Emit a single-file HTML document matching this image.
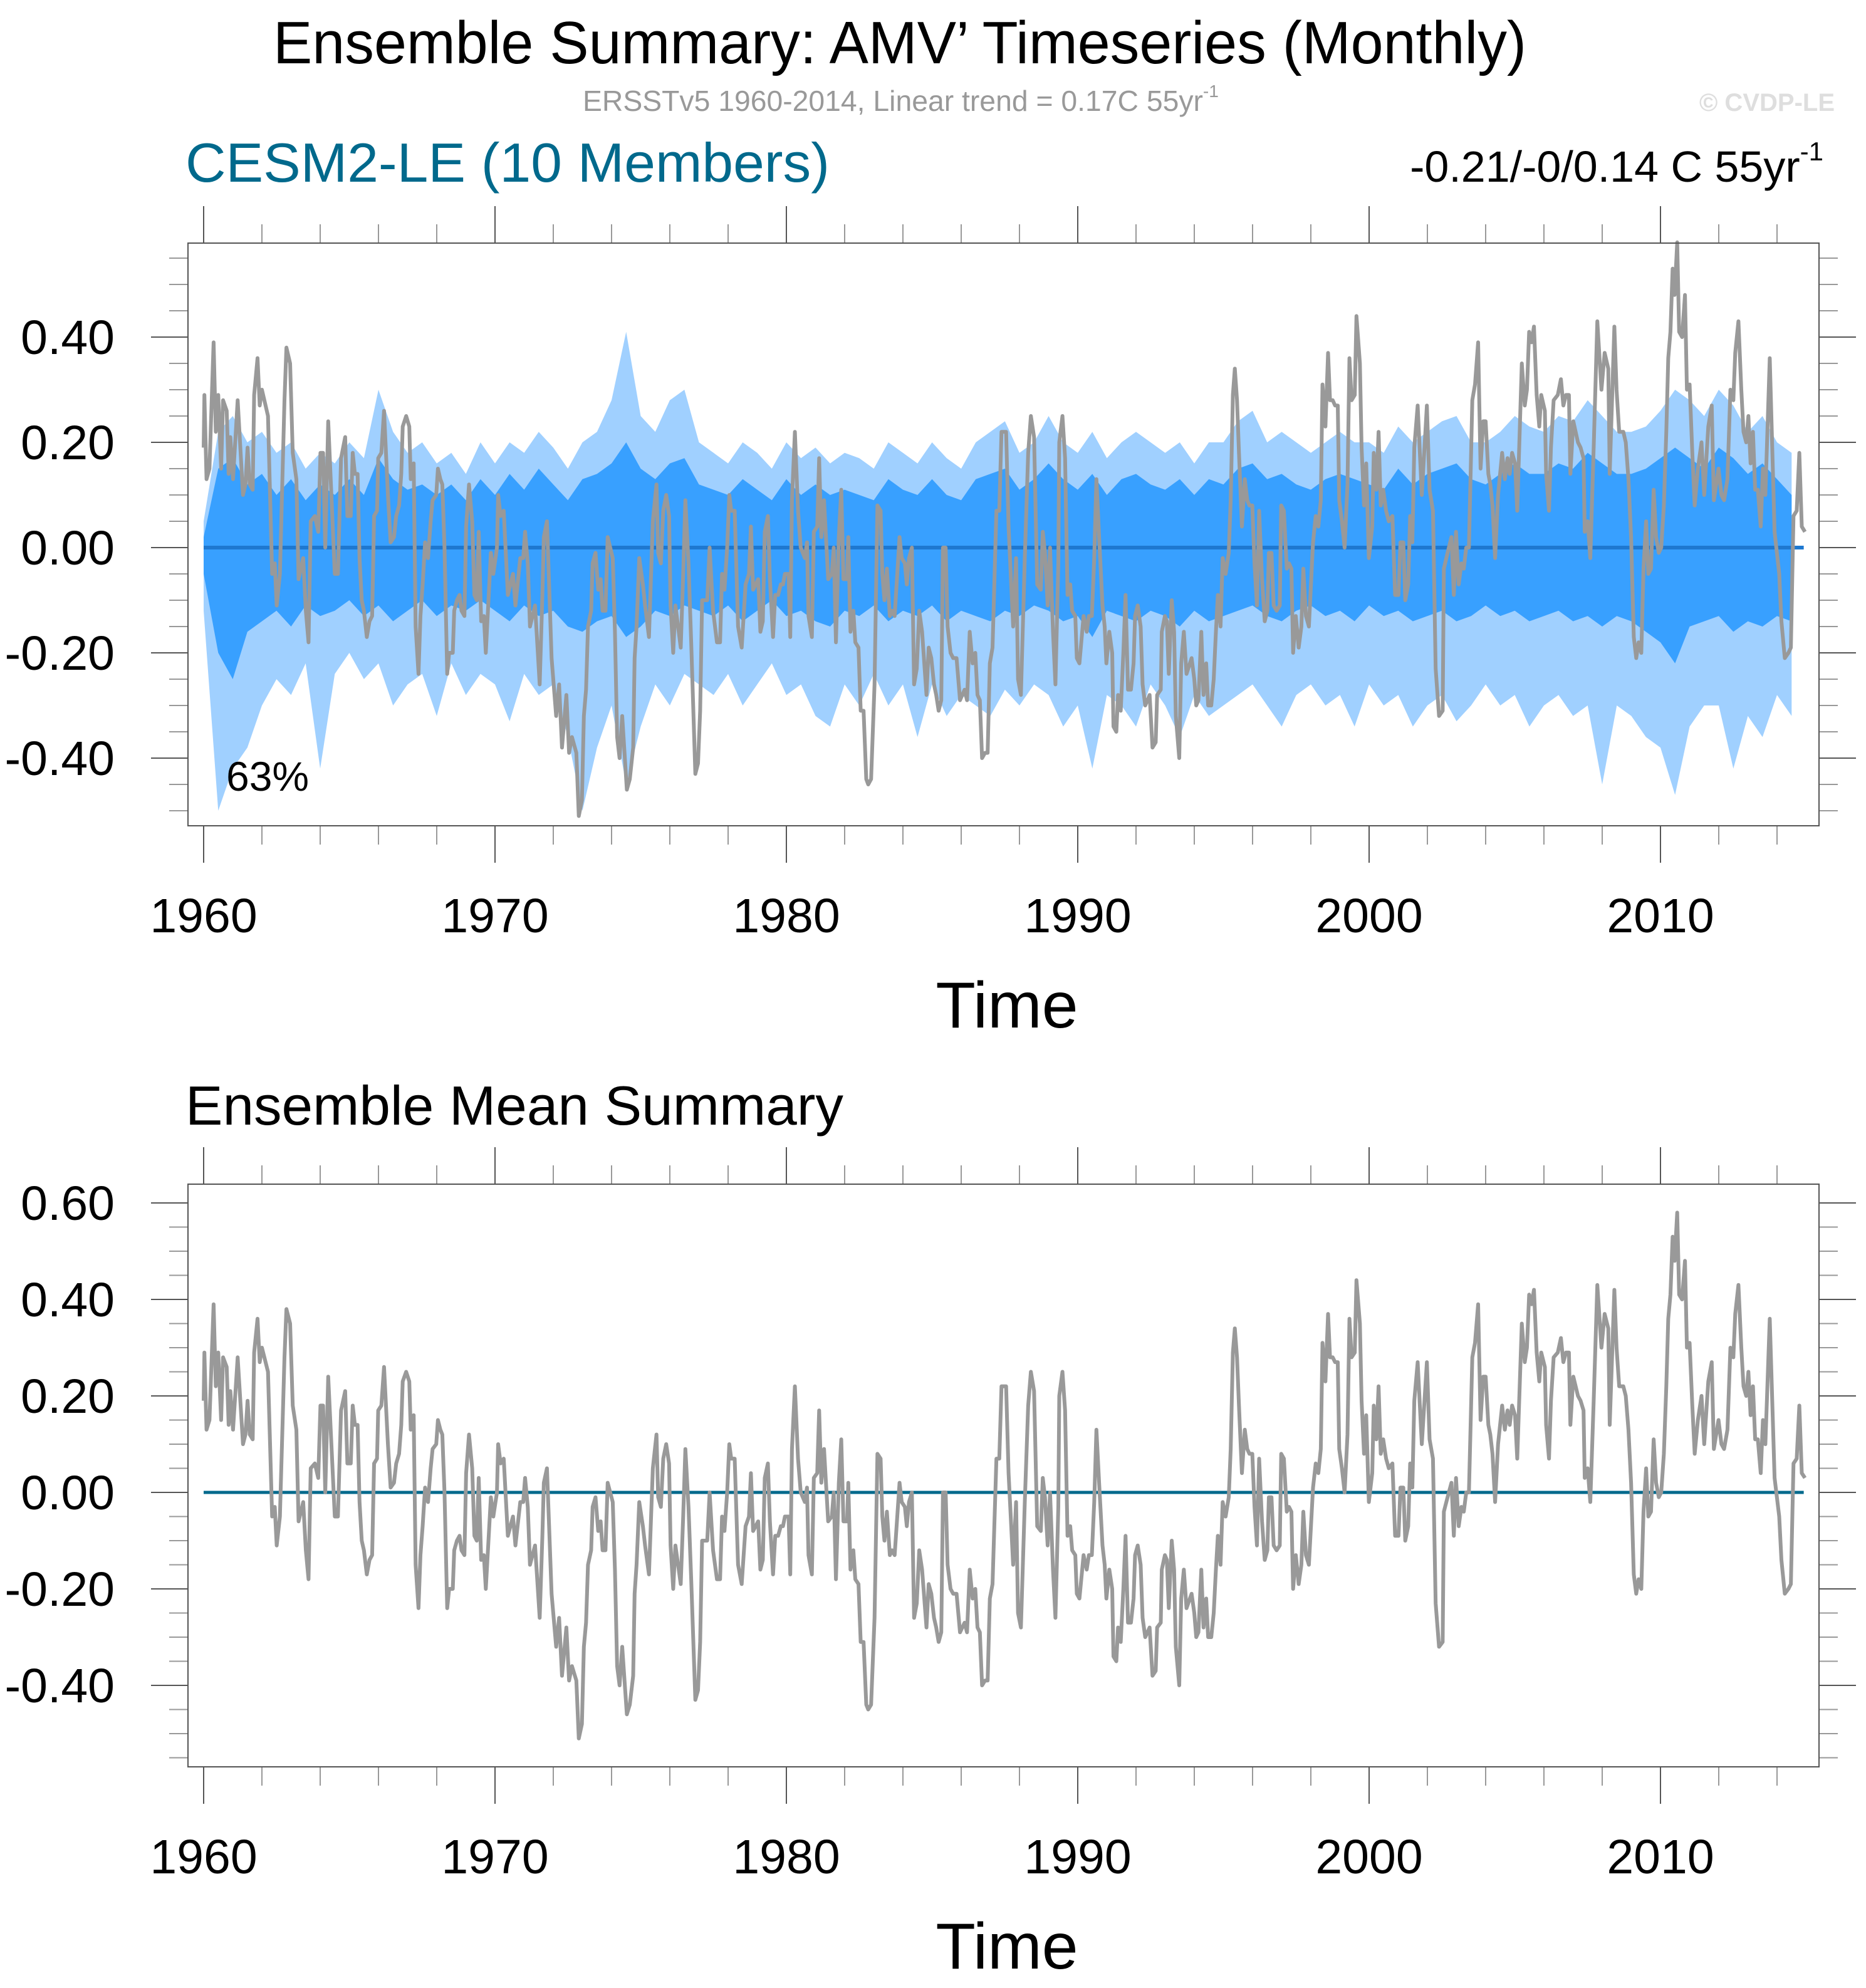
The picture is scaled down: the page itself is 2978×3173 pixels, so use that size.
<!DOCTYPE html>
<html><head><meta charset="utf-8"><style>
html,body{margin:0;padding:0;background:#fff;}
svg{display:block;font-family:"Liberation Sans",sans-serif;}
</style></head><body>
<svg id="c" width="2978" height="3173" viewBox="0 0 2978 3173" xmlns="http://www.w3.org/2000/svg">
<text x="1436" y="101" font-size="96" text-anchor="middle" textLength="2000" lengthAdjust="spacingAndGlyphs">Ensemble Summary: AMV’ Timeseries (Monthly)</text>
<text x="930" y="177" font-size="46" fill="#999" textLength="1015" lengthAdjust="spacingAndGlyphs">ERSSTv5 1960-2014, Linear trend = 0.17C 55yr<tspan font-size="28" dy="-22">-1</tspan></text>
<text x="2928" y="177" font-size="40" font-weight="bold" fill="#dedede" text-anchor="end">© CVDP-LE</text>
<text x="296" y="290" font-size="88" fill="#00698c" textLength="1028" lengthAdjust="spacingAndGlyphs">CESM2-LE (10 Members)</text>
<text x="2910" y="290" font-size="70" text-anchor="end">-0.21/-0/0.14 C 55yr<tspan font-size="42" dy="-34">-1</tspan></text>
<text x="296" y="1795" font-size="88" textLength="1050" lengthAdjust="spacingAndGlyphs">Ensemble Mean Summary</text>
<g id="p1"></g>
<g id="p2"></g>
</svg>
<script>
const obsMonth=[0,0.3,1.2,2.4,4.1,5,6,7.2,8,9.5,10.3,11,12.1,14,16.2,17.2,18.1,19,20.2,20.8,22.2,23.1,24,25,26.5,28.2,29.3,30.1,31.4,33.3,34.1,35.6,36.7,38.2,39.1,41,42.1,43.2,44.1,45.8,47.2,48.1,49.2,50.1,51.3,54,55.3,56.6,58.3,59.2,60.6,61.4,62.3,63.4,64.2,65.1,66,67.2,68.3,69.4,70.2,71.4,71.9,73.2,74.3,75.9,77,78.4,79.3,80.5,81.4,82,83.4,84.7,85.3,86.5,87.3,88.5,89.3,90.2,91.2,92.4,93.5,94.3,95.8,96.5,97.5,98.3,99.2,100.3,101.1,102.6,103.2,104.3,105.4,106.2,107.4,108.1,109.3,110.6,111.5,112.5,113.3,114.3,115.4,116.2,118.3,119.3,120.8,121.3,122.3,123.6,125.3,127.4,128.4,130.4,131.6,132.4,133.5,134.4,136.5,138.4,139.5,140.1,141.4,143.3,145.2,146.4,147.6,149.4,150.5,151.7,153.5,154.5,155.8,156.6,157.5,158.3,159.6,160.2,161.4,162.5,163.5,164.3,165.5,166.4,168.5,169.4,170.3,171.3,
172.4,174.3,175.5,176.9,177.5,178.3,179.4,180.9,181.8,183.4,185,186.5,187.2,188.3,189.3,190.5,191.7,192.3,193.4,194.3,196.5,197.5,198.4,199.7,200.8,202.5,203.6,204.5,205.3,207.4,208.4,209.8,211.4,212.7,213.5,214.5,215.6,216.5,217.3,218.7,220.1,221.6,223.2,224.6,225.4,226.3,228.4,229.3,230.3,231.1,232.4,233.2,234.5,235.4,236.6,237.7,238.6,239.4,240.9,241.6,242.3,243.5,244.8,245.9,247.6,248.5,249.1,250.5,251.3,252.7,253.5,254.4,255.5,257.2,258.7,259.5,260.4,261.6,262.6,263.5,265,265.5,266.4,267.6,268.4,269.7,270.6,271.8,272.9,273.7,274.9,276.3,277.5,278.8,279.5,280.4,281.4,282.6,283.5,284.6,286.6,287.5,288.8,289.6,290.5,291.7,292.6,293.7,294.7,295.9,297.7,298.6,299.7,300.8,301.7,302.7,303.8,304.5,305.6,306.4,307.6,308.7,310.1,311.5,313.4,314.4,315.5,316.7,317.8,318.7,319.7,320.6,321.8,322.9,323.8,324.9,326.5,327.7,328.6,330.5,331.5,333.4,334.6,335.4,336.6,338.2,339.6,340.7,342,
343.3,344.8,345.6,346.5,347.6,348.6,349.8,350.8,352,352.4,353.7,354.8,355.8,356.9,357.7,359,359.6,360.7,362.4,363.7,364.6,365.8,366.8,367.7,368.8,370.2,371.1,371.8,373,374.2,374.7,375.9,376.6,377.7,378.8,379.7,380.7,381.9,383,383.6,384.7,385.9,386.7,387.8,389.6,390.8,392.1,392.7,394.2,394.6,395.9,396.7,397.5,398.7,399.7,400.4,401.8,402.6,403.7,404.8,406.9,408,408.8,409.7,410.9,411.8,412.9,413.7,415,416,416.9,417.7,418.8,419.7,420.9,422.2,423,423.9,424.7,425.6,426.4,427.6,428.8,429.8,430.7,431.9,432.8,433.8,434.7,435.9,437,438.1,438.7,439.8,440.7,441.9,443.2,443.8,444.9,446.1,447,448,448.7,449.8,451,452.1,452.9,454,455.2,456.9,458,459.1,460.1,460.8,462,463.1,463.9,465,466,467.1,467.7,468.8,469.9,471.1,471.9,472.8,474.1,474.8,476.2,476.9,477.9,478.8,479.9,481.3,481.9,483,483.9,484.8,485.8,487,488.1,489.6,490.7,492.1,492.9,494.1,494.9,496.1,496.9,497.8,498.6,500,501.7,503.8,504.9,506.3,507.4,508.8,510.3,510.8,512.3,
513.9,514.9,515.8,516.9,518,519,520,521.1,522.5,523.6,524.9,525.9,527,528,529.1,529.9,530.8,531.9,533.1,534.8,535.9,537,537.9,538.9,540.1,541,542.9,544.1,545,545.9,546.9,547.9,549,550.1,550.9,552.4,552.9,554.1,554.9,556,557.7,559,560,561.1,562.3,562.9,564.1,566,567.1,568.3,568.8,570,571.1,572.5,574,575.7,577,578.5,579.1,581,581.9,583,584.7,585.7,586.8,587.9,589,590,591,592.1,593,594.1,595,596.1,597.2,598.2,599.3,600.3,601.4,602.4,603.2,604.1,605,605.8,606.9,607.7,608.9,610.1,610.9,612,613.1,614.1,615.4,616.9,618,619.7,621.1,622,623.9,625.1,626.2,627.6,628.8,630,630.8,632.1,633.3,634.2,635.3,636.2,637.1,638.1,639,640.1,641.3,642.2,643.2,645,647,648.9,649.8,651.2,652.7,653.7,654.8,656.1,657.2,658.2,659.5];
const obsValue=[0.19,0.29,0.13,0.15,0.39,0.22,0.29,0.15,0.28,0.26,0.14,0.21,0.13,0.28,0.10,0.12,0.19,0.12,0.11,0.29,0.36,0.27,0.30,0.28,0.25,-0.05,-0.03,-0.11,-0.05,0.28,0.38,0.35,0.18,0.13,-0.06,-0.02,-0.12,-0.18,0.05,0.06,0.03,0.18,0.18,0.00,0.24,-0.05,-0.05,0.17,0.21,0.06,0.06,0.18,0.14,0.14,-0.02,-0.10,-0.12,-0.17,-0.14,-0.13,0.06,0.07,0.17,0.18,0.26,0.10,0.01,0.02,0.06,0.08,0.14,0.23,0.25,0.23,0.13,0.16,-0.15,-0.24,-0.13,-0.07,0.01,-0.02,0.05,0.09,0.10,0.15,0.13,0.12,0.00,-0.24,-0.20,-0.20,-0.12,-0.10,-0.09,-0.12,-0.13,0.04,0.12,0.05,-0.09,-0.10,0.03,-0.14,-0.13,-0.20,-0.01,-0.05,0.00,0.10,0.06,0.07,-0.09,-0.05,-0.11,-0.02,-0.02,0.03,-0.03,-0.15,-0.11,-0.26,-0.09,0.02,0.05,-0.21,-0.32,-0.26,-0.38,-0.28,-0.39,-0.36,-0.39,-0.51,-0.48,-0.32,-0.27,-0.15,-0.12,-0.03,-0.01,-0.08,-0.06,-0.12,-0.12,0.02,-0.02,-0.16,-0.36,-0.40,
-0.32,-0.46,-0.44,-0.38,-0.21,-0.15,-0.02,-0.07,-0.11,-0.17,0.05,0.12,-0.01,-0.03,0.07,0.10,0.06,-0.11,-0.20,-0.11,-0.19,-0.05,0.09,-0.03,-0.18,-0.43,-0.41,-0.31,-0.10,-0.10,0.00,-0.12,-0.18,-0.18,-0.05,-0.08,0.00,0.10,0.07,0.07,-0.15,-0.19,-0.07,-0.05,0.04,-0.08,-0.06,-0.16,-0.14,0.03,0.06,-0.06,-0.17,-0.09,-0.09,-0.07,-0.07,-0.05,-0.05,-0.17,0.09,0.22,0.07,0.00,-0.02,0.01,-0.13,-0.17,0.03,0.04,0.17,0.02,0.09,-0.06,-0.05,0.00,-0.18,0.02,0.11,-0.06,-0.06,0.02,-0.16,-0.12,-0.18,-0.19,-0.31,-0.31,-0.44,-0.45,-0.44,-0.26,0.08,0.07,-0.05,-0.10,-0.04,-0.13,-0.12,-0.13,0.02,-0.02,-0.03,-0.07,-0.02,0.00,-0.26,-0.23,-0.12,-0.16,-0.28,-0.19,-0.21,-0.26,-0.28,-0.31,-0.29,0.00,0.00,-0.15,-0.20,-0.21,-0.21,-0.29,-0.27,-0.29,-0.16,-0.22,-0.20,-0.28,-0.29,-0.40,-0.39,-0.39,-0.22,-0.19,0.07,0.07,0.22,0.22,0.04,-0.15,-0.02,-0.25,-0.28,-0.02,0.18,0.25,0.21,
-0.07,-0.08,0.03,-0.01,-0.11,0.00,-0.16,-0.26,-0.03,0.20,0.25,0.17,-0.09,-0.07,-0.12,-0.13,-0.21,-0.22,-0.13,-0.16,-0.13,-0.13,-0.02,0.13,0.02,-0.11,-0.15,-0.22,-0.16,-0.20,-0.34,-0.35,-0.28,-0.31,-0.20,-0.09,-0.27,-0.27,-0.22,-0.13,-0.11,-0.15,-0.26,-0.30,-0.28,-0.38,-0.37,-0.28,-0.27,-0.16,-0.13,-0.14,-0.24,-0.10,-0.16,-0.32,-0.40,-0.22,-0.16,-0.24,-0.21,-0.25,-0.30,-0.29,-0.16,-0.28,-0.22,-0.30,-0.30,-0.25,-0.16,-0.09,-0.15,-0.02,-0.05,-0.01,0.09,0.29,0.34,0.28,0.18,0.04,0.13,0.09,0.08,0.08,-0.03,-0.11,0.07,-0.06,-0.14,-0.12,-0.01,-0.01,-0.11,-0.12,-0.11,0.08,0.07,-0.04,-0.03,-0.04,-0.20,-0.13,-0.19,-0.15,-0.04,-0.13,-0.15,0.01,0.06,0.04,0.09,0.31,0.23,0.37,0.28,0.28,0.27,0.27,0.09,0.05,0.00,0.12,0.36,0.28,0.29,0.44,0.35,0.19,0.08,0.16,-0.02,0.04,0.18,0.11,0.22,0.08,0.11,0.07,0.05,0.06,-0.09,-0.09,0.01,0.01,-0.10,-0.07,0.06,0.01,0.19,0.27,0.10,0.27,0.11,0.07,-0.23,-0.32,-0.31,-0.04,-0.01,
0.02,-0.09,0.03,-0.07,-0.03,-0.04,0.00,0.00,0.28,0.31,0.39,0.15,0.24,0.24,0.14,0.12,0.08,-0.02,0.10,0.18,0.13,0.17,0.14,0.18,0.16,0.07,0.35,0.27,0.30,0.41,0.39,0.42,0.29,0.23,0.29,0.26,0.14,0.07,0.19,0.28,0.29,0.32,0.27,0.29,0.29,0.14,0.24,0.20,0.19,0.17,0.03,0.05,-0.02,0.19,0.43,0.30,0.37,0.34,0.14,0.42,0.30,0.22,0.22,0.20,0.13,0.02,-0.17,-0.21,-0.18,-0.20,-0.04,0.05,-0.05,-0.04,0.11,0.02,-0.01,0.00,0.08,0.22,0.36,0.41,0.53,0.48,0.58,0.41,0.40,0.48,0.30,0.31,0.18,0.08,0.15,0.20,0.10,0.23,0.27,0.09,0.15,0.10,0.09,0.13,0.30,0.28,0.37,0.43,0.30,0.22,0.20,0.25,0.16,0.22,0.11,0.11,0.04,0.15,0.10,0.36,0.03,-0.05,-0.14,-0.21,-0.20,-0.19,0.06,0.07,0.18,0.04,0.03];
// ensemble envelopes, sampled every half year starting 1960.0
const bandYear0=1960, bandStep=0.5;
const lightHi=[0.05,0.22,0.25,0.20,0.22,0.18,0.20,0.15,0.18,0.16,0.20,0.17,0.30,0.22,0.18,0.20,0.16,0.18,0.14,0.20,0.16,0.20,0.18,0.22,0.19,0.15,0.20,0.22,0.28,0.41,0.25,0.22,0.28,0.30,0.20,0.18,0.16,0.20,0.18,0.15,0.20,0.17,0.19,0.16,0.18,0.17,0.15,0.20,0.18,0.16,0.20,0.17,0.15,0.20,0.22,0.24,0.18,0.20,0.25,0.20,0.18,0.22,0.17,0.20,0.22,0.20,0.18,0.20,0.16,0.20,0.20,0.24,0.26,0.20,0.22,0.20,0.18,0.20,0.22,0.20,0.20,0.18,0.23,0.20,0.22,0.24,0.25,0.20,0.20,0.22,0.25,0.23,0.22,0.25,0.24,0.28,0.25,0.22,0.22,0.23,0.26,0.30,0.28,0.25,0.30,0.27,0.22,0.25,0.20,0.18];
const darkHi=[0.02,0.15,0.17,0.12,0.14,0.10,0.13,0.09,0.12,0.10,0.13,0.10,0.17,0.13,0.11,0.12,0.10,0.12,0.09,0.13,0.10,0.14,0.11,0.15,0.12,0.09,0.13,0.14,0.16,0.20,0.15,0.13,0.16,0.17,0.12,0.11,0.10,0.13,0.11,0.09,0.13,0.10,0.12,0.10,0.11,0.10,0.09,0.13,0.11,0.10,0.13,0.10,0.09,0.13,0.14,0.15,0.11,0.13,0.16,0.13,0.11,0.14,0.10,0.13,0.14,0.12,0.11,0.13,0.10,0.13,0.12,0.15,0.16,0.13,0.14,0.12,0.11,0.13,0.14,0.13,0.12,0.11,0.15,0.12,0.14,0.15,0.16,0.13,0.12,0.14,0.16,0.14,0.14,0.16,0.15,0.18,0.16,0.14,0.14,0.15,0.17,0.19,0.17,0.15,0.19,0.17,0.14,0.16,0.13,0.10];
const darkLo=[-0.05,-0.20,-0.25,-0.16,-0.14,-0.12,-0.15,-0.11,-0.13,-0.12,-0.10,-0.13,-0.11,-0.14,-0.12,-0.10,-0.13,-0.11,-0.12,-0.10,-0.12,-0.14,-0.11,-0.13,-0.12,-0.15,-0.16,-0.14,-0.13,-0.17,-0.15,-0.12,-0.13,-0.11,-0.12,-0.13,-0.11,-0.14,-0.12,-0.10,-0.13,-0.12,-0.14,-0.15,-0.12,-0.13,-0.11,-0.14,-0.12,-0.13,-0.11,-0.14,-0.12,-0.13,-0.14,-0.12,-0.13,-0.11,-0.12,-0.14,-0.13,-0.17,-0.12,-0.13,-0.14,-0.12,-0.13,-0.15,-0.12,-0.14,-0.13,-0.12,-0.11,-0.13,-0.14,-0.12,-0.11,-0.13,-0.12,-0.14,-0.11,-0.13,-0.12,-0.14,-0.13,-0.12,-0.14,-0.13,-0.11,-0.13,-0.12,-0.14,-0.13,-0.12,-0.14,-0.13,-0.15,-0.13,-0.14,-0.16,-0.18,-0.22,-0.15,-0.14,-0.13,-0.16,-0.14,-0.15,-0.13,-0.14];
const lightLo=[-0.12,-0.50,-0.42,-0.38,-0.30,-0.25,-0.28,-0.22,-0.42,-0.24,-0.20,-0.25,-0.22,-0.30,-0.26,-0.24,-0.32,-0.22,-0.28,-0.24,-0.26,-0.33,-0.24,-0.28,-0.26,-0.36,-0.50,-0.38,-0.30,-0.45,-0.34,-0.26,-0.30,-0.24,-0.26,-0.28,-0.24,-0.30,-0.26,-0.22,-0.28,-0.26,-0.32,-0.34,-0.26,-0.30,-0.24,-0.30,-0.26,-0.36,-0.26,-0.32,-0.28,-0.30,-0.32,-0.27,-0.30,-0.26,-0.28,-0.34,-0.30,-0.42,-0.28,-0.30,-0.34,-0.26,-0.30,-0.36,-0.28,-0.32,-0.30,-0.28,-0.26,-0.30,-0.34,-0.28,-0.26,-0.30,-0.28,-0.34,-0.26,-0.30,-0.28,-0.34,-0.30,-0.28,-0.33,-0.30,-0.26,-0.30,-0.28,-0.34,-0.30,-0.28,-0.32,-0.30,-0.45,-0.30,-0.32,-0.36,-0.38,-0.47,-0.34,-0.30,-0.30,-0.42,-0.32,-0.36,-0.28,-0.32];
const ensMean=[0,0];
const xTickYears=[1960,1970,1980,1990,2000,2010];
const xTickLabels=["1960","1970","1980","1990","2000","2010"];
const y1Ticks=[-0.4,-0.2,0,0.2,0.4];
const y1Labels=["-0.40","-0.20","0.00","0.20","0.40"];
const y2Ticks=[-0.4,-0.2,0,0.2,0.4,0.6];
const y2Labels=["-0.40","-0.20","0.00","0.20","0.40","0.60"];
const pctLabel="63%";

const NS="http://www.w3.org/2000/svg";
function mk(parent,tag,attrs){const e=document.createElementNS(NS,tag);for(const k in attrs)e.setAttribute(k,attrs[k]);parent.appendChild(e);return e;}
const L=300,R=2903;
const xS=yr=>325+46.5*(yr-1960);
const xM=m=>xS(1960+m/12);

function panel(g,T,B,y0,ppu,vmin,vmax,ticks,labels,labBase){
  const yS=v=>y0-ppu*v;
  for(let i=Math.round(vmin*20);i<=Math.round(vmax*20);i++){
    const v=i/20, y=yS(v), maj=(i%4===0);
    const len=maj?59:30, col=maj?"#555":"#999";
    const t1=mk(g,"line",{x1:L-len,x2:L,y1:y,y2:y,stroke:col,"stroke-width":2});
    
    
    const t2=mk(g,"line",{x1:R,x2:R+len,y1:y,y2:y,stroke:col,"stroke-width":2});
    
    
  }
  ticks.forEach((v,i)=>{
    const t=mk(g,"text",{x:183,y:yS(v)+27,"font-size":77,"text-anchor":"end"});
    t.textContent=labels[i];
    
    
  });
  for(let yr=1960;yr<=2014;yr+=2){
    const x=xS(yr), maj=(yr%10===0);
    const len=maj?59:30, col=maj?"#555":"#999";
    const a=mk(g,"line",{x1:x,x2:x,y1:T-len,y2:T,stroke:col,"stroke-width":2});
    
    
    const b=mk(g,"line",{x1:x,x2:x,y1:B,y2:B+len,stroke:col,"stroke-width":2});
    
    
  }
  xTickYears.forEach((yr,i)=>{
    const t=mk(g,"text",{x:xS(yr),y:labBase,"font-size":77,"text-anchor":"middle"});
    t.textContent=xTickLabels[i];
    
    
  });
  const tt=mk(g,"text",{x:1607,y:labBase+152,"font-size":104,"text-anchor":"middle"});
  tt.textContent="Time";
  
  
  return yS;
}
function obsPath(yS){
  return obsMonth.map((m,i)=>(i?"L":"M")+xM(m).toFixed(1)+" "+yS(obsValue[i]).toFixed(1)).join("");
}
function band(hi,lo,yS){
  const up=hi.map((v,i)=>xS(bandYear0+i*bandStep).toFixed(1)+","+yS(v).toFixed(1));
  const dn=lo.map((v,i)=>xS(bandYear0+i*bandStep).toFixed(1)+","+yS(v).toFixed(1)).reverse();
  return up.concat(dn).join(" ");
}

const g1=document.getElementById("p1");
const T1=388,B1=1318;
const y1=panel(g1,T1,B1,874,840,-0.5,0.55,y1Ticks,y1Labels,1488);
const lb=mk(g1,"polygon",{points:band(lightHi,lightLo,y1),fill:"#a0d0ff"});


const db=mk(g1,"polygon",{points:band(darkHi,darkLo,y1),fill:"#38a0ff"});


const ml=mk(g1,"line",{x1:xS(1960),x2:xM(659),y1:y1(ensMean[0]),y2:y1(ensMean[1]),stroke:"#1e78d0","stroke-width":6});


const o1=mk(g1,"path",{d:obsPath(y1),fill:"none",stroke:"#999","stroke-width":6,"stroke-linejoin":"round"});


const pc=mk(g1,"text",{x:361,y:1262,"font-size":66});
pc.textContent=pctLabel;


const f1=mk(g1,"rect",{x:L,y:T1,width:R-L,height:B1-T1,fill:"none",stroke:"#555","stroke-width":2});



const g2=document.getElementById("p2");
const T2=1890,B2=2820;
const y2=panel(g2,T2,B2,2382,770,-0.55,0.6,y2Ticks,y2Labels,2990);
const ml2=mk(g2,"line",{x1:xS(1960),x2:xM(659),y1:y2(ensMean[0]),y2:y2(ensMean[1]),stroke:"#00698c","stroke-width":5});


const o2=mk(g2,"path",{d:obsPath(y2),fill:"none",stroke:"#999","stroke-width":6,"stroke-linejoin":"round"});


const f2=mk(g2,"rect",{x:L,y:T2,width:R-L,height:B2-T2,fill:"none",stroke:"#555","stroke-width":2});


</script>
</body></html>
